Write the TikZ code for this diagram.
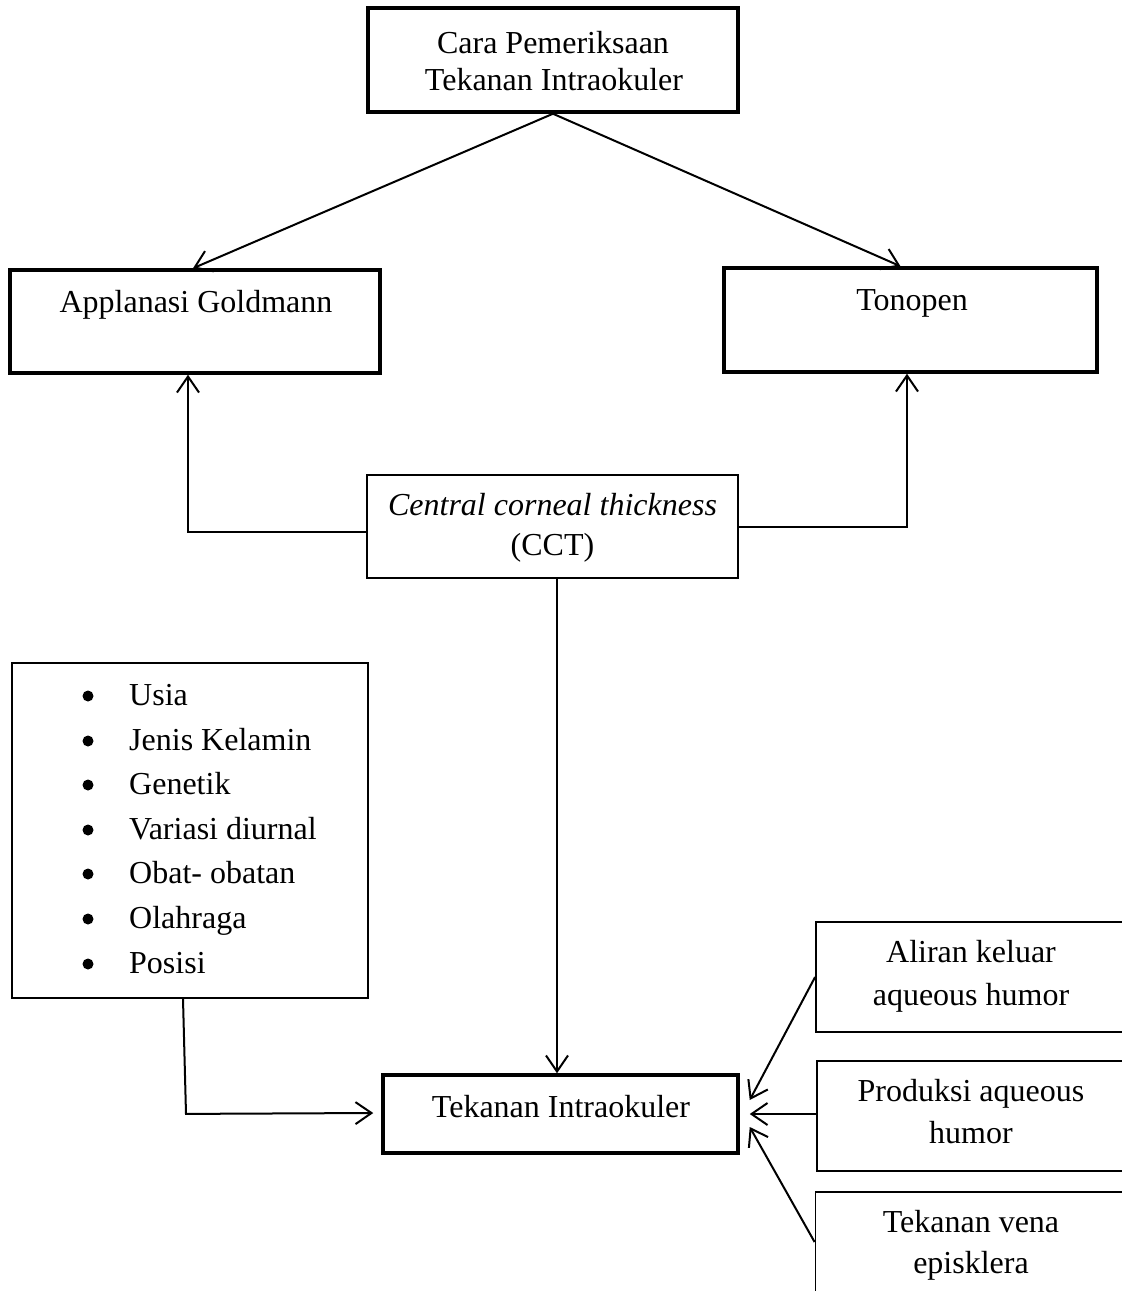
\documentclass[tikz,border=0pt]{standalone}
\usepackage{fontspec}
\setmainfont{Liberation Serif}
\usetikzlibrary{arrows.meta,calc}
\tikzset{
  txt/.style={font=\fontsize{32}{37}\selectfont, inner sep=0pt, anchor=base},
  boxsz/.style 2 args={rectangle, minimum width=#1, minimum height=#2, inner sep=0pt},
  thickbox/.style={draw, line width=3.5pt},
  thinbox/.style={draw, line width=1.8pt},
  bulletdot/.style={circle, fill=black, inner sep=0pt, minimum size=11pt},
  arr/.style={line width=2pt, -{Straight Barb[length=16pt,width=22pt,line width=2pt]}},
}
\begin{document}
\begin{tikzpicture}[x=1pt,y=-1pt]
\useasboundingbox (0,0) rectangle (1122,1291);
\clip (0,0) rectangle (1122,1291);
\fill[white] (0,0) rectangle (1122,1291);

% boxes
\node[thickbox, boxsz={370pt}{104pt}] (top) at (553,60) {};
\node[thickbox, boxsz={370pt}{103pt}] (appl) at (195,321.5) {};
\node[thickbox, boxsz={373pt}{104pt}] (tono) at (910.5,320) {};
\node[thinbox, boxsz={371pt}{103pt}] (cct) at (552.5,526.5) {};
\node[thinbox, boxsz={356pt}{335pt}] (bul) at (190,830.5) {};
\node[thickbox, boxsz={355pt}{78pt}] (tek) at (560.5,1114) {};
\node[thinbox, boxsz={310pt}{110pt}] (r1) at (971,977) {};
\node[thinbox, boxsz={310pt}{110pt}] (r2) at (972,1116) {};
\node[thinbox, boxsz={310pt}{110pt}] (r3) at (970.5,1247) {};

% texts
\node[txt] (t1a) at (553,53) {Cara Pemeriksaan};
\node[txt] (t1b) at (554,90) {Tekanan Intraokuler};
\node[txt] (t2) at (196,312) {Applanasi Goldmann};
\node[txt] (t3) at (912,310) {Tonopen};
\node[txt] (t4a) at (552.5,515) {\itshape Central corneal thickness};
\node[txt] (t4b) at (552.5,555) {(CCT)};
\node[txt] (t5) at (561,1117) {Tekanan Intraokuler};
\node[txt] (t6a) at (971,962) {Aliran keluar};
\node[txt] (t6b) at (971,1005) {aqueous humor};
\node[txt] (t7a) at (971,1101) {Produksi aqueous};
\node[txt] (t7b) at (971,1143) {humor};
\node[txt] (t8a) at (971,1232) {Tekanan vena};
\node[txt] (t8b) at (971,1273) {episklera};

% bullet list
\foreach \y/\w [count=\i] in {705/Usia, 750/Jenis Kelamin, 794/Genetik, 839/Variasi diurnal, 883/Obat- obatan, 928/Olahraga, 973/Posisi}{
  \node[bulletdot] (b\i) at (88,\y-9) {};
  \node[txt, anchor=base west] (l\i) at (129,\y) {\w};
}

% connectors
\draw[arr] (top.south) -- ($(appl.north)+(-2,0)$);
\draw[arr] (top.south) -- ($(tono.north)+(-10,0)$);
\draw[arr] ($(cct.west)+(0,5.5)$) -| ($(appl.south)+(-7,0)$);
\draw[arr] ($(cct.east)+(0,0.5)$) -| ($(tono.south)+(-3.5,0)$);
\draw[arr] ($(cct.south)+(4.5,0)$) -- ($(tek.north)+(-3.5,0)$);
\draw[arr] ($(bul.south)+(-7,0)$) -- ($(bul.south)+(-4,115)$) -- ($(tek.west)+(-8,-1)$);
\draw[arr] (r1.west) -- ($(tek.east)+(10,-14)$);
\draw[arr] ($(r2.west)+(0,-2)$) -- ($(tek.east)+(10,0)$);
\draw[arr] ($(r3.west)+(0,-5)$) -- ($(tek.east)+(10,13)$);
\end{tikzpicture}
\end{document}
